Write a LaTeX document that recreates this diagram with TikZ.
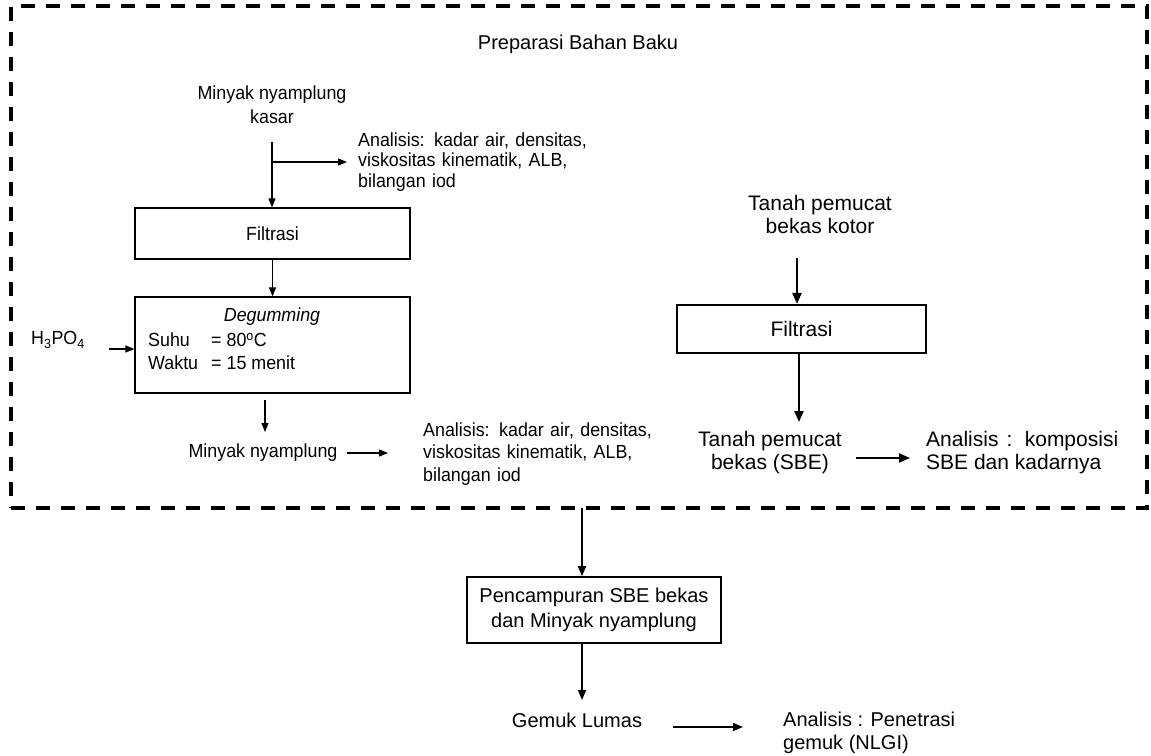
\documentclass[tikz,border=0pt]{standalone}
\usepackage{fontspec}
\setmainfont{Liberation Sans}
\newfontfamily\condfont{Liberation Sans}[FakeStretch=0.94]
\usetikzlibrary{arrows.meta}
\begin{document}
\begin{tikzpicture}[x=1pt,y=-1pt,
  lblL/.style={inner sep=0pt, align=center, font=\condfont\fontsize{19}{22}\selectfont},
  lblR/.style={inner sep=0pt, align=center, font=\fontsize{21}{23}\selectfont},
  lblM/.style={inner sep=0pt, align=center, font=\fontsize{20}{24}\selectfont},
  boxL/.style={draw, line width=1.2pt, inner sep=0pt, font=\condfont\fontsize{19}{22}\selectfont},
  boxR/.style={draw, line width=2.2pt, inner sep=0pt, font=\fontsize{21}{24}\selectfont},
  boxM/.style={draw, line width=1.6pt, inner sep=0pt, align=center, font=\fontsize{20}{25}\selectfont},
  arrL/.style={line width=1.3pt, -{Triangle[length=9pt,width=7pt]}},
  arrR/.style={line width=2.2pt, -{Triangle[length=11pt,width=9pt]}},
  arrM/.style={line width=1.7pt, -{Triangle[length=10pt,width=8pt]}},
  prepbox/.style={draw, dash pattern=on 14pt off 11pt, line width=3.4pt, inner sep=0pt}
]
\useasboundingbox (0,0) rectangle (1151,755);

% dashed frame
\node[prepbox, minimum width=1136pt, minimum height=502pt] (prep) at (579,257) {};
\node[lblM] (title) at (578,44) {Preparasi Bahan Baku};

% left column
\node[lblL, font=\condfont\fontsize{19}{24}\selectfont] (crude) at (272,105) {Minyak nyamplung\\kasar};
\coordinate (c1top) at (272,142);
\coordinate (c1br) at (272,162);
\coordinate (c1tip) at (347,162);
\node[lblL, anchor=west, align=left, text width=240pt, font=\condfont\fontsize{19}{20.5}\selectfont] (an1) at (358,162)
  {\makebox[240pt][s]{Analisis: kadar air, densitas,}\\\makebox[240pt][s]{viskositas kinematik, ALB,}\\bilangan iod};

\node[boxL, minimum width=275pt, minimum height=51pt] (fil1) at (272.5,233.5) {Filtrasi};
\node[boxL, minimum width=275pt, minimum height=96pt] (deg) at (272.5,345) {};
\node[lblL, font=\condfont\fontsize{19}{22}\selectfont\itshape] (degt) at (272,317) {Degumming};
\node[lblL, anchor=west] (suhu) at (148,340) {Suhu};
\node[lblL, anchor=west] (suhuv) at (211,340) {= 80\textsuperscript{o}C};
\node[lblL, anchor=west] (waktu) at (148,363) {Waktu};
\node[lblL, anchor=west] (waktuv) at (211,363) {= 15 menit};

\node[lblL] (h3) at (58,340) {H\textsubscript{3}PO\textsubscript{4}};
\coordinate (h3in) at (109,349);

\coordinate (o1) at (265,400);
\coordinate (o2) at (265,432);
\node[lblL] (oil) at (263,453) {Minyak nyamplung};
\coordinate (oa) at (347,453);
\coordinate (ob) at (388,453);
\node[lblL, anchor=west, align=left, text width=240pt, font=\condfont\fontsize{19}{22.5}\selectfont] (an2) at (423,454)
  {\makebox[240pt][s]{Analisis: kadar air, densitas,}\\\makebox[240pt][s]{viskositas kinematik, ALB,}\\bilangan iod};

\draw[arrL] (c1top) -- (c1top |- fil1.north);
\draw[arrL] (c1br) -- (c1tip);
\draw[arrL] (fil1.south) -- (deg.north);
\draw[arrL] (h3in) -- (h3in -| deg.west);
\draw[arrL] (o1) -- (o2);
\draw[arrL] (oa) -- (ob);

% right column
\node[lblR] (tpk) at (820,214) {Tanah pemucat\\bekas kotor};
\coordinate (t1) at (797,258);
\node[boxR, minimum width=249pt, minimum height=48pt] (fil2) at (801.5,329) {Filtrasi};
\coordinate (t2) at (799,353);
\coordinate (t3) at (799,422);
\node[lblR] (sbe) at (770,453) {Tanah pemucat\\bekas (SBE)};
\coordinate (sa) at (856,458);
\coordinate (sb) at (910,458);
\node[lblR, anchor=west, align=left] (an3) at (926,453) {\makebox[192pt][s]{Analisis : komposisi}\\SBE dan kadarnya};

\draw[arrR] (t1) -- (t1 |- fil2.north);
\draw[arrR] (t2) -- (t3);
\draw[arrR] (sa) -- (sb);

% bottom
\coordinate (pb) at (582,508);
\node[boxM, minimum width=254pt, minimum height=66pt] (mix) at (594,610) {Pencampuran SBE bekas\\dan Minyak nyamplung};
\coordinate (g1) at (582,700);
\node[lblM] (gl) at (577,720) {Gemuk Lumas};
\coordinate (ga) at (673,727);
\coordinate (gb) at (743,727);
\node[lblM, anchor=west, align=left, font=\fontsize{20}{23}\selectfont] (an4) at (783,733) {Analisis : Penetrasi\\gemuk (NLGI)};

\draw[arrM] (pb) -- (pb |- mix.north);
\draw[arrM] (pb |- mix.south) -- (g1);
\draw[arrM] (ga) -- (gb);
\end{tikzpicture}
\end{document}
